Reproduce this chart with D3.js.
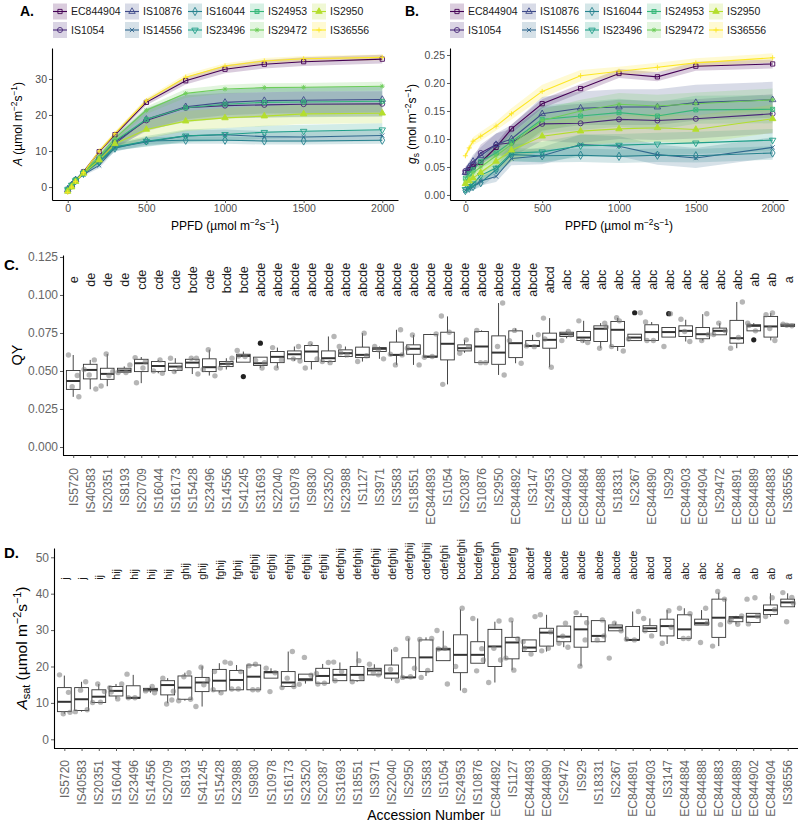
<!DOCTYPE html>
<html><head><meta charset="utf-8">
<script src="https://cdn.jsdelivr.net/npm/d3@7"></script>
<style>body{margin:0;background:#fff} text{font-family:"Liberation Sans",Arial,sans-serif}</style>
</head><body><svg id="c" width="800" height="828"></svg>
<script>
// ---------- Panel A/B data ----------
const ppfd = [0,25,50,100,200,300,500,750,1000,1250,1500,2000];
const genotypes = ["EC844904","IS1054","IS10876","IS14556","IS16044","IS23496","IS24953","IS29472","IS2950","IS36556"];
const colors = ["#440154","#482878","#3E4A89","#31688E","#26828E","#1F9E89","#35B779","#6DCD59","#B4DE2C","#FDE725"];
const shapes = ["square","circle","triangle","cross","diamond","triDown","squareX","asterisk","triangleF","plus"];
const aMean = [
 [-1.0,0.3,1.8,4.2,9.8,14.5,23.5,29.5,32.7,34.1,34.8,35.5],
 [-0.8,0.5,2.0,4.0,8.0,12.5,18.5,22.0,22.6,22.8,23.0,23.1],
 [-0.8,0.5,2.0,4.0,7.5,12.0,18.8,22.3,23.5,24.0,24.1,24.3],
 [-0.5,0.6,1.8,3.5,6.0,11.0,12.5,14.2,14.5,14.0,13.9,14.3],
 [-0.6,0.5,1.8,3.8,7.0,10.8,12.8,13.0,13.0,12.8,12.8,13.0],
 [-0.7,0.5,1.8,3.8,7.2,11.2,12.7,14.2,14.6,15.2,15.5,15.9],
 [-0.8,0.5,2.0,4.0,8.0,12.8,18.8,22.0,23.0,23.5,23.6,23.8],
 [-1.0,0.3,1.8,4.2,8.5,13.5,21.3,26.0,27.2,27.6,27.7,28.0],
 [-1.2,0.0,1.5,3.8,7.5,12.0,16.0,18.3,19.2,19.7,20.3,20.5],
 [-1.5,0.0,1.5,4.0,10.0,14.8,24.0,30.5,33.6,35.0,35.6,36.0]];
const aSE = [
 [0.3,0.3,0.3,0.4,0.5,0.6,0.8,1.0,1.1,1.2,1.2,1.2],
 [0.3,0.3,0.4,0.5,1.0,1.5,3.0,3.5,3.5,3.5,3.5,3.5],
 [0.3,0.3,0.4,0.5,1.0,1.5,3.0,3.5,3.6,3.6,3.6,3.6],
 [0.3,0.3,0.3,0.4,0.8,1.0,1.2,1.5,1.5,1.5,1.5,1.5],
 [0.3,0.3,0.3,0.4,0.8,1.0,1.0,1.0,1.0,1.0,1.0,1.0],
 [0.3,0.3,0.3,0.4,0.8,1.0,1.5,1.8,1.8,1.8,1.8,1.8],
 [0.3,0.3,0.4,0.5,1.0,1.5,3.0,4.0,4.0,4.2,4.2,4.2],
 [0.3,0.3,0.3,0.4,0.6,0.8,1.0,1.2,1.2,1.2,1.2,1.2],
 [0.3,0.3,0.4,0.5,1.0,1.5,2.5,2.8,2.8,2.8,2.8,2.8],
 [0.3,0.3,0.3,0.4,0.5,0.6,0.7,0.8,0.8,0.8,0.8,0.8]];
const gsMean = [
 [0.040,0.045,0.050,0.058,0.085,0.118,0.163,0.190,0.217,0.211,0.230,0.234],
 [0.043,0.048,0.055,0.075,0.090,0.093,0.127,0.128,0.135,0.133,0.136,0.145],
 [0.040,0.050,0.060,0.070,0.090,0.100,0.145,0.155,0.157,0.157,0.165,0.170],
 [0.008,0.012,0.015,0.025,0.033,0.065,0.070,0.090,0.087,0.072,0.066,0.085],
 [0.008,0.012,0.015,0.022,0.045,0.072,0.070,0.071,0.069,0.071,0.070,0.075],
 [0.010,0.015,0.020,0.035,0.048,0.075,0.077,0.088,0.089,0.091,0.093,0.098],
 [0.030,0.038,0.045,0.060,0.075,0.095,0.135,0.141,0.147,0.141,0.152,0.153],
 [0.025,0.032,0.040,0.050,0.070,0.090,0.133,0.150,0.162,0.159,0.163,0.170],
 [0.020,0.025,0.030,0.040,0.060,0.080,0.105,0.114,0.118,0.120,0.117,0.136],
 [0.070,0.084,0.096,0.105,0.123,0.145,0.185,0.213,0.221,0.228,0.236,0.245]];
const gsSE = [
 [0.004,0.004,0.005,0.006,0.008,0.008,0.008,0.008,0.008,0.008,0.008,0.008],
 [0.008,0.010,0.012,0.015,0.020,0.025,0.030,0.035,0.035,0.035,0.035,0.035],
 [0.008,0.010,0.012,0.015,0.020,0.025,0.030,0.030,0.032,0.032,0.032,0.032],
 [0.004,0.005,0.006,0.008,0.010,0.012,0.015,0.018,0.018,0.018,0.018,0.018],
 [0.004,0.005,0.006,0.008,0.010,0.012,0.012,0.012,0.012,0.012,0.012,0.012],
 [0.005,0.006,0.007,0.008,0.012,0.015,0.018,0.020,0.020,0.020,0.020,0.020],
 [0.006,0.008,0.010,0.012,0.015,0.020,0.025,0.025,0.025,0.025,0.025,0.025],
 [0.006,0.008,0.010,0.012,0.015,0.018,0.020,0.020,0.020,0.020,0.020,0.020],
 [0.006,0.008,0.010,0.012,0.015,0.020,0.025,0.025,0.025,0.025,0.025,0.025],
 [0.005,0.006,0.007,0.008,0.008,0.010,0.012,0.010,0.008,0.008,0.008,0.008]];
const ppfdTicks = [0,500,1000,1500,2000];
const aTicks = [0,10,20,30];
const gsTicks = [0,0.05,0.10,0.15,0.20,0.25];

// ---------- Panel C data (QY) ----------
const qyAcc = ["IS5720","IS40583","IS20351","IS8193","IS20709","IS16044","IS16173","IS15428","IS23496","IS14556","IS41245","IS31693","IS22040","IS10978","IS9830","IS23520","IS23988","IS1127","IS3971","IS3583","IS18551","EC844893","IS1054","IS20387","IS10876","IS2950","EC844892","IS3147","IS24953","EC844902","EC844884","EC844888","IS18331","IS2367","EC844890","IS929","EC844903","EC844904","IS29472","EC844891","EC844889","EC844883","IS36556"];
const qyLetters = ["e","de","de","de","cde","cde","cde","bcde","cde","bcde","bcde","abcde","abcde","abcde","abcde","abcde","abcde","abcde","abcde","abcde","abcde","abcde","abcde","abcde","abcde","abcde","abcde","abcde","abcd","abc","abc","abc","abc","abc","abc","abc","abc","abc","abc","abc","ab","ab","a"];
const qyLo  = [.033,.038,.040,.049,.042,.0485,.049,.048,.047,.051,.0558,.052,.052,.0566,.051,.0555,.059,.0562,.058,.054,.054,.059,.0412,.062,.0555,.0474,.0551,.0661,.0525,.0715,.0687,.065,.0632,.070,.0701,.0723,.0694,.070,.0738,.065,.0764,.0701,.079];
const qyQ1  = [.0379,.0448,.0445,.0492,.0496,.0496,.0503,.0522,.0496,.0529,.0558,.0536,.0555,.058,.0562,.0562,.0595,.0588,.0628,.0606,.061,.0591,.0573,.0632,.0555,.0544,.0588,.0661,.065,.0727,.0701,.0694,.0661,.070,.0701,.0723,.0727,.0712,.0738,.0683,.0764,.0723,.0793];
const qyMed = [.0434,.0507,.0481,.0503,.0551,.0533,.0529,.0555,.0525,.0547,.0599,.0551,.0593,.061,.0628,.0584,.0617,.0606,.0646,.0606,.0646,.0595,.0679,.065,.0661,.0621,.0683,.0665,.0705,.0742,.072,.0778,.0771,.072,.0756,.0756,.0764,.0742,.0764,.0716,.0797,.0793,.0798];
const qyQ3  = [.0503,.0544,.0518,.0518,.0577,.0562,.0551,.0577,.058,.0562,.061,.0591,.0628,.0632,.0668,.0632,.0639,.0657,.0654,.069,.0672,.074,.0755,.0672,.076,.0731,.0764,.070,.0749,.0755,.076,.0797,.0826,.0742,.0804,.0786,.0797,.0786,.0782,.0833,.0804,.0859,.0808];
const qyHi  = [.0605,.0573,.0612,.053,.0592,.0573,.0584,.0584,.064,.0584,.0628,.0591,.0654,.0661,.0679,.0727,.0661,.0749,.0661,.0771,.0737,.0744,.0859,.0705,.0767,.0947,.078,.0738,.0848,.076,.083,.0815,.085,.0742,.0822,.0786,.0837,.0874,.0815,.0954,.0815,.0881,.081];
const qyPts = [[.0605,.047,.0397,.0331],[.0573,.0474,.0382,.051],[.0612,.0496,.0401,.047],[.054,.049,.049],[.0588,.052,.0423,.056],[.0573,.050,.0485],[.0584,.0518,.0496],[.0584,.0584,.048],[.064,.0468,.051],[.0584,.052,.055],[.0635,.0595,.0598],[.052,.057,.0555],[.0654,.0573,.052],[.0661,.058,.0566],[.0679,.058,.052],[.0727,.0562,.0555],[.0661,.0606,.062],[.0749,.0562,.060],[.0661,.058,.064],[.0771,.054,.0606,.061],[.0737,.054,.065],[.0744,.059,.0595],[.0862,.0755,.0412],[.0705,.0617,.066],[.0767,.0555,.0555],[.0947,.0661,.0474],[.0767,.0551,.070],[.0738,.0665,.066],[.0848,.0525,.071],[.076,.070,.0738],[.083,.0687,.0701],[.0815,.065,.079],[.085,.0632,.0661,.083],[.0883,.071],[.0822,.0701,.0701],[.0877,.0661],[.084,.0694,.076],[.0877,.070,.074],[.0815,.0764,.074],[.0954,.065,.072],[.0815,.0764,.080],[.0881,.087,.0701,.078],[.0808,.0797,.0801]];
const qyOut = [[],[],[],[],[],[],[],[],[],[],[.0463],[.0683],[],[],[],[],[],[],[],[],[],[],[],[],[],[],[],[],[],[],[],[],[],[.0883],[],[.0877],[],[],[],[],[.0705],[],[]];
const qyTicks = [0,0.025,0.05,0.075,0.1,0.125];

// ---------- Panel D data (Asat) ----------
const asAcc = ["IS5720","IS40583","IS20351","IS16044","IS23496","IS14556","IS20709","IS8193","IS41245","IS15428","IS23988","IS9830","IS10978","IS16173","IS23520","IS20387","IS31693","IS18551","IS3971","IS22040","IS2950","IS3583","IS1054","IS24953","IS10876","EC844892","IS1127","EC844893","EC844890","IS29472","IS929","IS18331","IS2367","EC844891","EC844903","IS3147","EC844884","EC844888","EC844883","EC844889","EC844902","EC844904","IS36556"];
const asLetters = ["j","j","ij","hij","hij","hij","hij","ghij","ghij","fghij","fghij","efghij","efghij","efghij","efghij","efghij","defghij","defghij","defghij","defghij","cdefghij","cdefghij","cdefghi","bcdefghi","bcdefgh","bcdefgh","bcdefg","abcdef","abcde","abcde","abcde","abcde","abcde","abcde","abcd","abcd","abc","abc","abc","ab","ab","ab","a"];
const asLo  = [7.0,7.6,10.1,11.1,11.3,12.8,9.9,10.6,9.0,12.8,13.6,13.6,16.8,14.5,15.3,15.4,16.1,15.8,17.7,16.1,17.0,17.4,21.6,13.4,20.9,15.6,19.0,24.1,24.1,25.3,20.1,26.8,29.8,27.3,29.6,26.2,27.7,31.4,25.6,31.6,32.1,33.7,36.4];
const asQ1  = [7.6,7.9,10.1,11.9,11.3,13.3,12.2,11.0,13.1,13.3,13.6,13.6,16.8,14.5,16.1,15.4,16.1,16.1,17.7,16.8,17.0,18.6,21.6,18.3,20.9,20.0,22.1,24.1,25.6,26.8,25.3,26.8,29.8,27.3,29.6,28.4,27.7,31.4,28.0,32.3,32.1,34.3,36.4];
const asMed = [10.3,11.0,11.7,13.3,11.4,13.7,14.9,14.2,15.6,16.1,16.3,17.2,18.4,15.6,16.5,17.4,17.7,17.7,18.9,18.1,17.0,22.5,24.7,23.2,23.2,25.5,26.6,25.2,29.3,28.2,30.2,28.4,30.7,27.3,30.5,31.1,30.2,31.9,33.4,33.4,33.7,35.5,37.6];
const asQ3  = [14.2,14.2,13.6,14.5,14.7,14.0,16.1,17.4,17.0,19.2,18.9,20.4,18.6,18.6,17.9,19.5,19.2,20.0,19.5,20.4,22.4,27.3,25.0,28.7,26.8,30.2,28.0,27.3,30.5,31.1,33.7,32.6,31.4,31.0,31.2,33.0,34.2,33.0,38.5,33.7,34.6,36.9,38.5];
const asHi  = [17.5,15.8,15.2,15.2,17.7,14.5,16.8,18.3,20.1,20.9,20.4,20.6,19.5,24.1,17.9,20.7,21.1,24.1,20.6,24.7,27.7,28.0,29.8,35.7,33.2,32.3,32.5,27.3,34.2,31.1,34.6,32.6,32.1,35.1,33.2,35.5,36.0,35.5,40.3,33.9,34.6,40.1,40.1];
const asPts = [[17.7,12.9,7.0,7.4],[15.8,13.5,8.1,7.6],[15.2,13.1,10.1,10.2],[15.2,14.2,11.1,13.0],[17.9,11.4,11.4],[14.5,13.3,12.8],[16.8,10.8,9.7,13.2],[18.3,17.2,11.0,10.6],[19.8,16.3,9.0,15.0],[21.2,13.6,12.8,18.6],[20.9,13.8,13.8,18.6],[20.6,20.2,13.6,13.6],[19.5,18.3,13.1],[24.1,16.8,14.5,14.2],[22.5,17.6,15.1],[21.1,18.1,15.4,15.2],[21.2,18.6,16.1],[21.6,15.8,17.0],[20.6,17.7,18.2],[24.7,19.2,16.1],[27.7,19.5,17.0,17.2],[27.7,27.4,18.9,17.0],[29.9,25.0,24.8,15.2],[36.0,20.0,13.4],[33.2,24.9,18.8,21.8],[32.5,25.0,21.8,15.6],[32.8,27.6,22.3,19.0],[33.7,26.8,23.4,25.0],[34.2,25.0,24.3,29.5],[31.9,26.4,25.3,28.3],[34.8,27.3,20.1,32.0],[32.8,27.3,28.4],[31.9,29.8,22.3],[35.1,27.5,27.3],[33.2,28.4,29.8],[35.3,26.4,30.8],[36.0,27.7,27.7,34.5],[36.0,26.6,31.9],[40.6,38.5,25.6,31.5],[33.9,32.3,31.6,33.0],[38.5,38.9,31.7,33.8],[38.9,33.7,35.6],[40.3,39.0,32.3,37.4]];
const asTicks = [0,10,20,30,40,50];

// ---------- helpers ----------
const svg = d3.select("#c");
const FONT = '"Liberation Sans",Arial,sans-serif';

function richText(g, parts, fs) {
  const t = g.append("text").attr("font-size", fs).attr("fill", "#000");
  let off = 0;
  parts.forEach(p => {
    const target = p.sup ? -0.42 * fs : p.sub ? 0.22 * fs : 0;
    const ts = t.append("tspan").text(p.t).attr("dy", target - off);
    off = target;
    if (p.sup || p.sub) ts.attr("font-size", fs * 0.7);
    if (p.i) ts.attr("font-style", "italic");
  });
  return t;
}

const crossType = {draw(ctx, size){const r=Math.sqrt(size)/2; ctx.moveTo(-r,-r);ctx.lineTo(r,r);ctx.moveTo(r,-r);ctx.lineTo(-r,r);}};
const plusType = {draw(ctx, size){const r=Math.sqrt(size)/1.7; ctx.moveTo(-r,0);ctx.lineTo(r,0);ctx.moveTo(0,-r);ctx.lineTo(0,r);}};
const sqxType = {draw(ctx,size){const r=Math.sqrt(size)/2; ctx.rect(-r,-r,2*r,2*r); ctx.moveTo(-r,-r);ctx.lineTo(r,r);ctx.moveTo(r,-r);ctx.lineTo(-r,r);}};
const astType = {draw(ctx,size){const r=Math.sqrt(size)/1.8; for(let k=0;k<4;k++){const a=k*Math.PI/4; ctx.moveTo(-r*Math.cos(a),-r*Math.sin(a)); ctx.lineTo(r*Math.cos(a),r*Math.sin(a));}}};

function drawSymbol(g, shape, color, x, y) {
  let type, filled=false, rot=0, size=22;
  switch(shape){
    case "square": type=d3.symbolSquare; size=18; break;
    case "circle": type=d3.symbolCircle; size=20; break;
    case "triangle": type=d3.symbolTriangle; size=18; break;
    case "triDown": type=d3.symbolTriangle; rot=180; size=18; break;
    case "cross": type=crossType; size=18; break;
    case "diamond": type=d3.symbolDiamond; size=20; break;
    case "squareX": type=sqxType; size=16; break;
    case "asterisk": type=astType; size=18; break;
    case "triangleF": type=d3.symbolTriangle; filled=true; size=18; break;
    case "plus": type=plusType; size=18; break;
  }
  g.append("path").attr("d", d3.symbol().type(type).size(size)())
    .attr("transform", `translate(${x},${y}) rotate(${rot})`)
    .attr("fill", filled ? color : "none").attr("stroke", color).attr("stroke-width", 0.9);
}

function styleAxis(g, labelColor, fs) {
  g.select(".domain").attr("stroke", "#000").attr("stroke-width", 1.1);
  g.selectAll(".tick line").attr("stroke", "#333").attr("stroke-width", 0.8);
  g.selectAll(".tick text").attr("fill", labelColor).attr("font-size", fs).attr("font-family", FONT);
}

// ---------- line panels ----------
function linePanel(cfg) {
  const {x0,x1,y0,y1,yDom,yTicks,yFmt,means,ses,label,lx,titleParts,titleX,legendCols} = cfg;
  const x = d3.scaleLinear().domain([-100,2100]).range([x0,x1]);
  const y = d3.scaleLinear().domain(yDom).range([y1,y0]);
  const g = svg.append("g");
  genotypes.forEach((gn,i) => {
    const area = d3.area().x((d,j)=>x(ppfd[j])).y0((d,j)=>y(means[i][j]-ses[i][j])).y1((d,j)=>y(means[i][j]+ses[i][j]));
    g.append("path").attr("d", area(means[i])).attr("fill", colors[i]).attr("fill-opacity", 0.2);
  });
  genotypes.forEach((gn,i) => {
    const line = d3.line().x((d,j)=>x(ppfd[j])).y(d=>y(d));
    g.append("path").attr("d", line(means[i])).attr("fill","none").attr("stroke", colors[i]).attr("stroke-width", 1.1);
  });
  genotypes.forEach((gn,i) => {
    means[i].forEach((v,j) => drawSymbol(g, shapes[i], colors[i], x(ppfd[j]), y(v)));
  });
  const ax = svg.append("g").attr("transform",`translate(0,${y1})`)
    .call(d3.axisBottom(x).tickValues(ppfdTicks).tickFormat(d3.format("d")).tickSize(3).tickSizeOuter(0).tickPadding(2));
  styleAxis(ax, "#4d4d4d", 10.5);
  const ay = svg.append("g").attr("transform",`translate(${x0},0)`)
    .call(d3.axisLeft(y).tickValues(yTicks).tickFormat(yFmt).tickSize(3).tickSizeOuter(0).tickPadding(2));
  styleAxis(ay, "#4d4d4d", 10.5);
  const xt = richText(svg.append("g"), [{t:"PPFD (µmol m"},{t:"−2",sup:1},{t:"s"},{t:"−1",sup:1},{t:")"}], 12);
  xt.attr("x", (x0+x1)/2).attr("y", 230).attr("text-anchor","middle");
  const yg = svg.append("g").attr("transform", `translate(${titleX},${(y0+y1)/2}) rotate(-90)`);
  richText(yg, titleParts, 12).attr("text-anchor","middle");
  svg.append("text").attr("x", lx).attr("y", 16).attr("font-size", 14).attr("font-weight","bold").text(label);
  genotypes.forEach((gn,i) => {
    const col = Math.floor(i/2), row = i%2;
    const cx = legendCols[col], cy = row===0 ? 11.5 : 30;
    svg.append("rect").attr("x", cx-7).attr("y", cy-8).attr("width",14).attr("height",16)
      .attr("fill", colors[i]).attr("fill-opacity", 0.2);
    svg.append("line").attr("x1",cx-7).attr("x2",cx+7).attr("y1",cy).attr("y2",cy).attr("stroke",colors[i]).attr("stroke-width",1.1);
    drawSymbol(svg, shapes[i], colors[i], cx, cy);
    svg.append("text").attr("x", cx+11).attr("y", cy).attr("dy","0.35em").attr("font-size",10.5).attr("fill","#1a1a1a").text(gn);
  });
}

linePanel({x0:52,x1:398,y0:48,y1:200,yDom:[-3.6,38.6],yTicks:aTicks,yFmt:d3.format("d"),means:aMean,ses:aSE,label:"A.",lx:20,
  titleParts:[{t:"A",i:1},{t:" (µmol m"},{t:"−2",sup:1},{t:"s"},{t:"−1",sup:1},{t:")"}],titleX:22,legendCols:[60,132,195,257,319]});
linePanel({x0:450,x1:788,y0:48,y1:200,yDom:[-0.009,0.2625],yTicks:gsTicks,yFmt:d3.format(".2f"),means:gsMean,ses:gsSE,label:"B.",lx:405,
  titleParts:[{t:"g",i:1},{t:"s",sub:1},{t:" (mol m"},{t:"−2",sup:1},{t:"s"},{t:"−1",sup:1},{t:")"}],titleX:416,legendCols:[457,529,592,654,716]});

// ---------- box panels ----------
function boxPanel(cfg) {
  const {x0,x1,y0,y1,yDom,yTicks,yFmt,cats,lo,q1,med,q3,hi,pts,outs,letters,letterY,letterAnchor,letterFs,label,labelY,lblOffset} = cfg;
  const x = d3.scalePoint().domain(cats).range([x0,x1]).padding(0.6);
  const y = d3.scaleLinear().domain(yDom).range([y1,y0]);
  const step = x.step(), hw = step*0.4;
  const offs = [-0.28,0.24,-0.06,0.33,-0.36,0.1];
  const g = svg.append("g");
  cats.forEach((c,i) => {
    const cx = x(c);
    g.append("line").attr("x1",cx).attr("x2",cx).attr("y1",y(lo[i])).attr("y2",y(q1[i])).attr("stroke","#333").attr("stroke-width",0.9);
    g.append("line").attr("x1",cx).attr("x2",cx).attr("y1",y(q3[i])).attr("y2",y(hi[i])).attr("stroke","#333").attr("stroke-width",0.9);
    g.append("rect").attr("x",cx-hw).attr("width",2*hw).attr("y",y(q3[i])).attr("height",Math.max(0.5,y(q1[i])-y(q3[i])))
      .attr("fill","#fff").attr("stroke","#333").attr("stroke-width",0.9);
    g.append("line").attr("x1",cx-hw).attr("x2",cx+hw).attr("y1",y(med[i])).attr("y2",y(med[i])).attr("stroke","#333").attr("stroke-width",2);
    if (outs) outs[i].forEach(v => g.append("circle").attr("cx",cx).attr("cy",y(v)).attr("r",2.6).attr("fill","#222"));
  });
  cats.forEach((c,i) => {
    pts[i].forEach((v,j) => g.append("circle").attr("cx", x(c)+offs[(j+i)%6]*step).attr("cy", y(v)).attr("r",2.7)
      .attr("fill","#7a7a7a").attr("fill-opacity",0.55));
    svg.append("text").attr("transform",`translate(${x(c)+0.5},${y(letterY)}) rotate(-90)`).attr("text-anchor",letterAnchor)
      .attr("dy","0.35em").attr("font-size",letterFs).attr("fill","#1a1a1a").text(letters[i]);
  });
  const ax = svg.append("g").attr("transform",`translate(0,${y1})`)
    .call(d3.axisBottom(x).tickSize(3).tickSizeOuter(0));
  styleAxis(ax, "#666", 12);
  ax.selectAll(".tick text").attr("transform","rotate(-90)").attr("text-anchor","end")
    .attr("x", -lblOffset).attr("y", 0).attr("dy","0.35em");
  ax.select(".domain").attr("d", `M${x0},0.5H${x1}`);
  const ay = svg.append("g").attr("transform",`translate(${x0},0)`)
    .call(d3.axisLeft(y).tickValues(yTicks).tickFormat(yFmt).tickSize(3).tickSizeOuter(0).tickPadding(2));
  styleAxis(ay, "#666", 12);
  svg.append("text").attr("x", 4).attr("y", labelY).attr("font-size", 15).attr("font-weight","bold").text(label);
}

boxPanel({x0:63,x1:798,y0:255,y1:455,yDom:[-0.00526,0.1263],yTicks:qyTicks,yFmt:d3.format(".3f"),cats:qyAcc,
  lo:qyLo,q1:qyQ1,med:qyMed,q3:qyQ3,hi:qyHi,pts:qyPts,outs:qyOut,letters:qyLetters,letterY:0.11,letterAnchor:"middle",letterFs:12.5,
  label:"C.",labelY:270,lblOffset:13});
const qyT = svg.append("g").attr("transform","translate(22,355) rotate(-90)");
richText(qyT,[{t:"QY"}],14.5).attr("text-anchor","middle");

boxPanel({x0:54,x1:798,y0:548,y1:748,yDom:[-2.39,52.55],yTicks:asTicks,yFmt:d3.format("d"),cats:asAcc,
  lo:asLo,q1:asQ1,med:asMed,q3:asQ3,hi:asHi,pts:asPts,outs:null,letters:asLetters,letterY:43.8,letterAnchor:"start",letterFs:10.8,
  label:"D.",labelY:558,lblOffset:12});
const asT = svg.append("g").attr("transform","translate(27,648) rotate(-90)");
richText(asT,[{t:"A",i:1},{t:"sat",sub:1},{t:" (µmol m"},{t:"−2",sup:1},{t:"s"},{t:"−1",sup:1},{t:")"}],15.5).attr("text-anchor","middle");
svg.append("text").attr("x",426).attr("y",820).attr("text-anchor","middle").attr("font-size",14).text("Accession Number");
</script></body></html>
